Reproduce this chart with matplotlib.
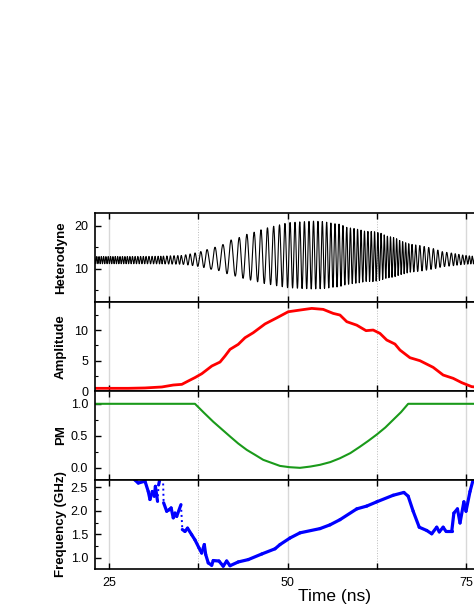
import numpy as np
import matplotlib
matplotlib.use('Agg')
import matplotlib.pyplot as plt
from matplotlib.ticker import MultipleLocator, FixedLocator

plt.rcParams['font.family'] = ['Liberation Sans', 'DejaVu Sans']

# amplitude envelope (ns, a.u.)
amp_t = [23.0, 24.9, 27.7, 30.04, 32.4, 34.0, 35.2, 36.1, 37.04, 38.0, 39.4, 40.55,
         41.25, 41.95, 43.1, 44.05, 45.2, 46.85, 48.5, 50.1, 51.75, 53.4, 55.0, 56.4,
         57.35, 58.3, 59.7, 61.0, 62.0, 62.95, 63.9, 65.05, 65.75, 67.15, 68.55, 70.4,
         71.8, 73.2, 74.4, 75.8, 76.9]
amp = [0.44, 0.44, 0.44, 0.5, 0.66, 0.98, 1.09, 1.64, 2.2, 2.84, 4.1, 4.75,
       5.74, 6.83, 7.65, 8.74, 9.56, 11.0, 12.0, 13.0, 13.28, 13.55, 13.39, 12.73,
       12.46, 11.37, 10.8, 9.9, 10.0, 9.45, 8.36, 7.7, 6.72, 5.46, 4.97, 3.88,
       2.62, 2.08, 1.37, 0.71, 0.6]

# phase modulation
pm_t = [23.0, 37.04, 38.3, 39.6, 41.95, 43.1, 44.3, 45.5, 46.6, 48.95, 50.3, 51.75,
        53.2, 54.55, 56.0, 57.35, 58.8, 60.15, 61.3, 62.5, 63.7, 64.8, 65.9, 66.9, 77.0]
pm = [1.0, 1.0, 0.86, 0.72, 0.49, 0.38, 0.28, 0.2, 0.125, 0.03, 0.01, 0.0,
      0.02, 0.047, 0.09, 0.15, 0.23, 0.33, 0.42, 0.52, 0.63, 0.75, 0.87, 1.0, 1.0]

# instantaneous frequency (GHz)
freq_t = [23.0, 27.5, 28.6, 29.1, 30.04, 30.5, 30.74, 31.07, 31.35, 31.5, 31.8, 31.95,
          32.3, 32.55, 32.65, 33.08, 33.4, 33.7, 34.0, 34.24, 34.48, 35.08, 35.27, 35.64,
          36.0, 36.58, 37.04, 37.6, 37.98, 38.35, 38.54, 38.9, 39.38, 39.6, 40.4, 41.0,
          41.48, 41.95, 43.1, 44.5, 46.4, 48.25, 48.95, 50.35, 51.75, 54.55, 55.95, 57.35,
          59.7, 61.1, 62.5, 64.8, 66.3, 66.9, 67.6, 68.45, 69.5, 70.2, 70.9, 71.26,
          71.8, 72.2, 73.0, 73.3, 73.8, 74.16, 74.7, 75.0, 75.56, 76.0, 76.5]
freq = [3.2, 2.9, 2.66, 2.59, 2.63, 2.41, 2.24, 2.41, 2.31, 2.52, 2.2, 2.55,
        2.8, 2.8, 2.17, 1.99, 2.02, 2.06, 1.85, 1.95, 1.88, 2.13, 1.6, 1.56,
        1.63, 1.49, 1.38, 1.21, 1.10, 1.28, 1.07, 0.89, 0.84, 0.94, 0.93, 0.82,
        0.93, 0.83, 0.91, 0.96, 1.08, 1.19, 1.28, 1.42, 1.53, 1.62, 1.70, 1.81,
        2.04, 2.10, 2.19, 2.33, 2.39, 2.31, 1.99, 1.65, 1.58, 1.51, 1.65, 1.55,
        1.65, 1.56, 1.56, 1.95, 2.04, 1.74, 2.19, 1.99, 2.41, 2.66, 2.85]

# heterodyne trace rebuilt from the envelope and frequency above
dt = 0.02
t = np.arange(23.0, 77.0, dt)
A = np.interp(t, amp_t, amp)
f = np.interp(t, freq_t, freq)
phase = 2 * np.pi * np.cumsum(f) * dt
het = 12 + 0.09 * A + np.sqrt((0.58 * A) ** 2 + 0.8 ** 2) * np.cos(phase)

W, H = 474, 614
fig = plt.figure(figsize=(W / 100, H / 100), dpi=100)

left = 95 / W
width = (480 - 95) / W
ph = 89 / H
bottoms = [(H - 302) / H, (H - 391) / H, (H - 480) / H, (H - 569) / H]
axes = [fig.add_axes([left, b, width, ph]) for b in bottoms]

xlim = (23.04, 76.96)
for ax in axes:
    ax.set_xlim(*xlim)
    ax.xaxis.set_major_locator(FixedLocator([25, 50, 75]))
    ax.xaxis.set_minor_locator(FixedLocator([37.5, 62.5]))
    ax.grid(True, which='major', axis='x', color='#d8d8d8', lw=1.0, ls='-', zorder=0)
    ax.grid(True, which='minor', axis='x', color='#bbbbbb', lw=0.7, ls=':', zorder=0)
    ax.tick_params(axis='x', which='both', direction='in', top=True, bottom=True,
                   length=4, width=1, labelbottom=False, labelsize=9)
    ax.tick_params(axis='y', which='major', direction='in', length=4.5, width=1,
                   labelsize=9, pad=5)
    ax.tick_params(axis='y', which='minor', direction='in', length=2.5, width=0.8)
    for s in ax.spines.values():
        s.set_linewidth(1.2)
    ax.set_axisbelow(True)

a0, a1, a2, a3 = axes
lab_kw = dict(fontweight='bold', fontsize=9.5)

a0.plot(t, het, color='black', lw=0.8)
a0.set_ylim(2.3, 23.0)
a0.yaxis.set_major_locator(MultipleLocator(10))
a0.yaxis.set_minor_locator(MultipleLocator(5))
a0.set_ylabel('Heterodyne', **lab_kw)

a1.plot(amp_t, amp, color='#ff0000', lw=2.0)
a1.set_ylim(0, 14.6)
a1.yaxis.set_major_locator(MultipleLocator(5))
a1.yaxis.set_minor_locator(MultipleLocator(2.5))
a1.set_ylabel('Amplitude', **lab_kw)

a2.plot(pm_t, pm, color='#1a9a1a', lw=1.5)
a2.set_ylim(-0.19, 1.2)
a2.yaxis.set_major_locator(FixedLocator([0.0, 0.5, 1.0]))
a2.yaxis.set_minor_locator(FixedLocator([-0.25, 0.25, 0.75]))
a2.yaxis.set_major_formatter(matplotlib.ticker.FormatStrFormatter('%.1f'))
a2.set_ylabel('PM', **lab_kw)

# steep jumps in the frequency trace appear dotted (sparse samples)
ft = np.array(freq_t)
fv = np.array(freq)
slope = np.abs(np.diff(fv) / np.diff(ft))
for i in range(len(ft) - 1):
    steep = slope[i] > 1.6
    a3.plot(ft[i:i + 2], fv[i:i + 2], color='#0000ff',
            lw=1.4 if steep else 2.3, ls=':' if steep else '-',
            solid_capstyle='round')
a3.set_ylim(0.76, 2.655)
a3.yaxis.set_major_locator(FixedLocator([1.0, 1.5, 2.0, 2.5]))
a3.yaxis.set_minor_locator(FixedLocator([1.25, 1.75, 2.25]))
a3.yaxis.set_major_formatter(matplotlib.ticker.FormatStrFormatter('%.1f'))
a3.set_ylabel('Frequency (GHz)', **lab_kw)
a3.tick_params(axis='x', labelbottom=True, pad=6)
a3.set_xlabel('Time (ns)', fontsize=12.5)
a3.xaxis.set_label_coords((335 - 95) / (480 - 95), -0.23)

for ax in axes:
    ax.yaxis.set_label_coords(-0.073, 0.5)

fig.savefig('out.png', dpi=100)
